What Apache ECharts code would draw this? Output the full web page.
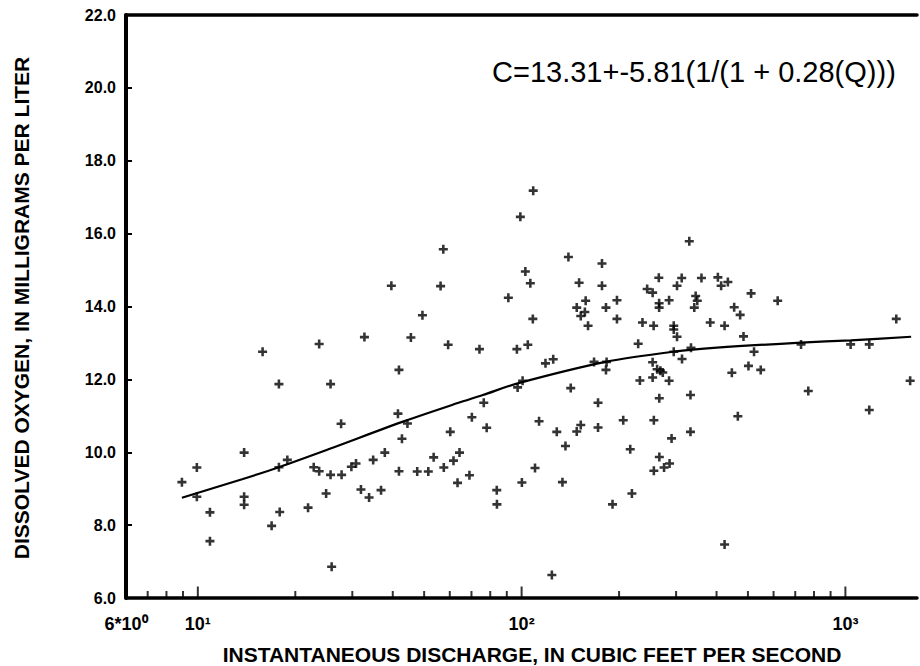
<!DOCTYPE html>
<html><head><meta charset="utf-8">
<script src="https://cdn.jsdelivr.net/npm/echarts@6/dist/echarts.min.js"></script>
<style>html,body{margin:0;padding:0;background:#fff}#c{width:920px;height:666px}</style>
</head><body><div id="c"></div>
<script>
// Instantaneous discharge (cubic feet per second)
const discharge = [8.93,9.93,9.93,10.9,10.9,13.9,13.9,13.9,15.85,16.9,17.8,17.8,17.9,18.9,21.9,22.8,23.7,23.7,24.9,25.7,25.7,25.9,27.7,27.8,29.8,30.8,31.9,32.7,33.8,34.8,36.8,37.8,39.6,41.5,41.8,41.8,42.7,44.4,45.5,47.6,49.4,51.5,53.5,56.2,57.3,57.5,59.3,60.2,61.6,63.4,64.3,69.0,70.2,74.1,76.4,78.0,83.8,83.9,91.0,96.7,97.2,99.1,100.2,100.7,102.7,104.5,106.4,108.6,108.3,110,113.2,118.5,124,125.2,128.4,133.7,136.6,139.5,141.8,148,148,150.5,152.3,152.3,156.8,157.7,160.4,167.4,172.2,172.2,177.1,177.1,182.2,182.2,183,190.9,197,197,206,216.5,219.1,229.1,231.9,236.2,244.2,253.9,253.9,253.9,255.7,256.1,256.1,262.1,265.3,265.9,265.9,266.2,266.3,268.3,272.9,275.4,285.4,285.4,286.4,290.5,295,295,295,302,302,312.2,312.9,329.5,332.3,332.3,333.5,341.4,344.8,348.8,359.3,382.4,403.8,413.3,433.5,423.5,423.5,446,453.4,465.4,473.1,484.5,501.9,511.3,522.2,547.7,617.8,729.5,768.1,1038,1185,1185,1436,1585];
// Dissolved oxygen (milligrams per liter)
const oxygen = [9.18,9.58,8.78,8.35,7.56,9.99,8.78,8.56,12.76,7.98,11.87,9.59,8.36,9.79,8.48,9.59,9.48,12.97,8.87,11.87,9.38,6.86,10.78,9.38,9.6,9.69,8.98,13.16,8.76,9.79,8.96,9.99,14.57,11.06,12.26,9.48,10.37,10.79,13.15,9.47,13.76,9.47,9.86,14.56,15.57,9.58,12.95,10.56,9.77,9.16,9.99,9.37,10.96,12.83,11.36,10.67,8.96,8.57,14.24,12.83,11.78,16.46,9.17,11.96,14.96,12.95,14.64,17.18,13.66,9.57,10.85,12.44,6.63,12.55,10.56,9.18,10.17,15.36,11.76,13.97,10.57,14.65,10.75,13.74,13.85,14.16,13.47,12.48,11.36,10.68,15.18,14.57,13.97,12.26,12.48,8.57,14.17,13.66,10.88,10.08,8.87,12.98,11.97,13.56,14.48,14.38,12.47,12.05,13.47,10.88,9.49,12.28,14.79,14.09,13.97,11.48,9.87,12.24,12.19,9.58,14.17,11.96,9.69,10.38,13.47,13.37,12.76,14.57,13.17,14.78,12.56,15.79,11.57,10.56,12.87,13.97,14.29,14.16,14.78,13.56,14.8,14.57,14.67,13.47,7.47,12.18,13.98,10.99,13.77,13.18,12.37,14.36,12.76,12.26,14.16,12.96,11.68,12.96,12.96,11.16,13.66,11.96];
// Fitted curve
const fitDischarge = [8.93,13.7,17.8,25.3,43.0,63.5,75.9,97.2,181.8,295,401,729,1038,1596];
const fitOxygen = [8.75,9.26,9.59,10.08,10.84,11.35,11.57,11.89,12.48,12.76,12.87,13.01,13.07,13.17];
// Axis ticks and labels
const xTickValues = [6,10,100,1000];
const xTickLabels = ['6*10\u2070','10\u00b9','10\u00b2','10\u00b3'];
const xMajorTicks = [10,100,1000];
const xMinorTicks = [7,8,9,20,30,40,50,60,70,80,90,200,300,400,500,600,700,800,900];
const yMin = 6, yMax = 22, yStep = 2;
const xMin = 6, xMax = 1664;
const equationText = 'C=13.31+-5.81(1/(1 + 0.28(Q)))';
const xTitle = 'INSTANTANEOUS DISCHARGE, IN CUBIC FEET PER SECOND';
const yTitle = 'DISSOLVED OXYGEN, IN MILLIGRAMS PER LITER';

const chart = echarts.init(document.getElementById('c'), null, {renderer: 'svg'});
const FONT = '"Liberation Sans", Arial, Helvetica, sans-serif';

chart.setOption({
  animation: false,
  backgroundColor: '#fff',
  grid: {left: 126, right: 0, top: 15, bottom: 68, containLabel: false},
  xAxis: [{
    type: 'log', logBase: 10, min: xMin, max: xMax,
    axisLine: {show: true, lineStyle: {color: '#000', width: 3.5}},
    axisTick: {show: false}, minorTick: {show: false}, splitLine: {show: false},
    axisLabel: {
      show: true, margin: 17, color: '#000', fontSize: 18, fontWeight: 'bold', fontFamily: FONT,
      showMinLabel: true, showMaxLabel: true,
      formatter: function (v) {
        for (let i = 0; i < xTickValues.length; i++) {
          if (Math.abs(Math.log10(v) - Math.log10(xTickValues[i])) < 0.01) return xTickLabels[i];
        }
        return '';
      }
    }
  }, {
    type: 'log', logBase: 10, min: xMin, max: xMax, position: 'top',
    axisLine: {show: true, lineStyle: {color: '#000', width: 3.5}},
    axisTick: {show: false}, axisLabel: {show: false}, splitLine: {show: false}
  }],
  yAxis: {
    type: 'value', min: yMin, max: yMax, interval: yStep,
    axisLine: {show: true, lineStyle: {color: '#000', width: 4}},
    axisTick: {show: true, inside: true, length: 6, lineStyle: {color: '#000', width: 2}},
    splitLine: {show: false},
    axisLabel: {margin: 10, color: '#000', fontSize: 16, fontWeight: 'bold', fontFamily: FONT,
      formatter: function (v) { return v.toFixed(1); }}
  },
  series: [{
    type: 'scatter',
    data: discharge.map(function (q, i) { return [q, oxygen[i]]; }),
    symbol: 'path://M3,0H5.4V3H8.4V5.4H5.4V8.4H3V5.4H0V3H3Z',
    symbolSize: 9,
    itemStyle: {color: '#000'},
    z: 3
  }, {
    type: 'line',
    data: fitDischarge.map(function (q, i) { return [q, fitOxygen[i]]; }),
    showSymbol: false, smooth: 0.3,
    lineStyle: {color: '#000', width: 2.2},
    z: 2
  }, {
    type: 'scatter', clip: false, silent: true,
    data: xMajorTicks.map(function (v) { return [v, yMin]; }),
    symbol: 'rect', symbolSize: [2, 11], symbolOffset: [0, -6],
    itemStyle: {color: '#000'}, z: 4
  }, {
    type: 'scatter', clip: false, silent: true,
    data: xMinorTicks.map(function (v) { return [v, yMin]; }),
    symbol: 'rect', symbolSize: [2, 6], symbolOffset: [0, -4],
    itemStyle: {color: '#000'}, z: 4
  }],
  graphic: [{
    type: 'text', x: 21, y: 308, rotation: Math.PI / 2,
    style: {text: yTitle, font: 'bold 21px ' + FONT, fill: '#000', align: 'center', verticalAlign: 'middle'}
  }, {
    type: 'text', x: 532, y: 654,
    style: {text: xTitle, font: 'bold 21px ' + FONT, fill: '#000', align: 'center', verticalAlign: 'middle'}
  }, {
    type: 'text', x: 492, y: 72,
    style: {text: equationText, font: '29px ' + FONT, fill: '#000', align: 'left', verticalAlign: 'middle'}
  }]
});
</script></body></html>
